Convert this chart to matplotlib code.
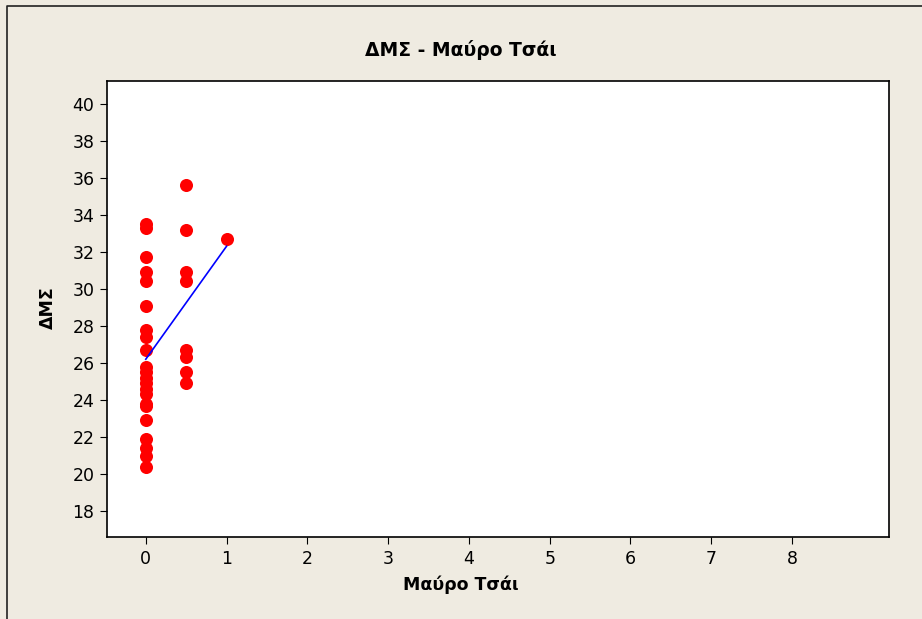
import matplotlib.pyplot as plt
from matplotlib.lines import Line2D

# Data
x_tea = [0]*22 + [0.5]*8 + [1]
y_dms = [33.5, 33.3, 31.7, 30.9, 30.4, 29.1, 27.8, 27.4, 26.7,
         25.8, 25.5, 25.2, 24.9, 24.6, 24.3, 23.7, 22.9, 21.9, 21.4, 21.0, 20.4,
         23.8,
         35.6, 33.2, 30.9, 30.4, 26.7, 26.3, 25.5, 24.9,
         32.7]
fit_x = [0, 1]
fit_y = [26.2, 32.3]

bg = '#EFEBE1'

fig = plt.figure(figsize=(9.22, 6.19), dpi=100, facecolor=bg)
ax = fig.add_axes([107/922, 1 - 537/619, (889-107)/922, (537-80.5)/619])
ax.set_facecolor('white')

ax.plot(x_tea, y_dms, 'o', color='#FF0000', markersize=9.4, markeredgewidth=0)
ax.plot(fit_x, fit_y, color='#0000FF', linewidth=1.2)

ax.set_xlim(-0.48, 9.2)
ax.set_ylim(16.6, 41.25)
ax.set_xticks(range(0, 9))
ax.set_yticks(range(18, 41, 2))
ax.tick_params(direction='out', length=5, labelsize=12.5, pad=4)
for s in ax.spines.values():
    s.set_linewidth(1.2)

fig.text(0.5, 1 - 50/619, 'ΔΜΣ - Μαύρο Τσάι', ha='center', va='center',
         fontsize=13.5, fontweight='bold')
fig.text(0.5, 1 - 585/619, 'Μαύρο Τσάι', ha='center', va='center',
         fontsize=12.5, fontweight='bold')
fig.text(48/922, 1 - 308/619, 'ΔΜΣ', ha='center', va='center', rotation=90,
         fontsize=12.5, fontweight='bold')

# outer frame (left and top edges visible)
fig.add_artist(Line2D([7/922, 7/922, 1], [0, 1 - 6/619, 1 - 6/619],
                      transform=fig.transFigure, color='#222222', linewidth=1.2))

plt.savefig('out.png', dpi=100, facecolor=bg)
